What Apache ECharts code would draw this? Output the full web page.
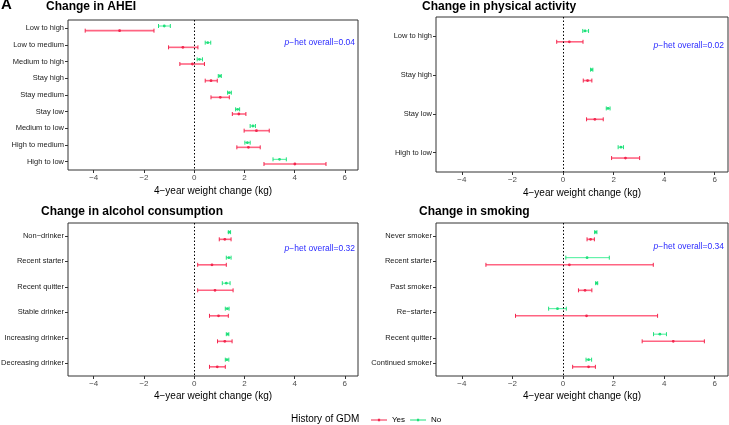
<!DOCTYPE html>
<html>
<head>
<meta charset="utf-8">
<script src="https://cdn.jsdelivr.net/npm/echarts@6/dist/echarts.min.js"></script>
<style>
  html, body { margin: 0; padding: 0; background: #fff; }
  #chart { width: 729px; height: 425px; }
</style>
</head>
<body>
<div id="chart"></div>
<script>
// ── 数据 (lo, hi, point) ─────────────────────
const xTicks = [-4, -2, 0, 2, 4, 6];

const aheiCats = ["Low to high", "Low to medium", "Medium to high", "Stay high", "Stay medium",
  "Stay low", "Medium to low", "High to medium", "High to low"];
const aheiYes = [[-4.34, -1.60, -2.97], [-1.02, 0.15, -0.45], [-0.57, 0.41, -0.07], [0.44, 0.92, 0.67],
  [0.67, 1.40, 1.04], [1.52, 2.06, 1.78], [1.99, 2.99, 2.48], [1.70, 2.63, 2.16], [2.78, 5.25, 4.01]];
const aheiNo = [[-1.42, -0.95, -1.19], [0.44, 0.66, 0.54], [0.12, 0.33, 0.21], [0.96, 1.08, 1.02],
  [1.33, 1.48, 1.40], [1.65, 1.81, 1.73], [2.23, 2.44, 2.34], [2.02, 2.23, 2.12], [3.14, 3.67, 3.40]];

const paCats = ["Low to high", "Stay high", "Stay low", "High to low"];
const paYes = [[-0.25, 0.79, 0.25], [0.80, 1.14, 0.97], [0.93, 1.59, 1.26], [1.92, 3.03, 2.47]];
const paNo = [[0.78, 1.01, 0.87], [1.09, 1.18, 1.13], [1.71, 1.86, 1.78], [2.18, 2.39, 2.29]];

const alcCats = ["Non\u2212drinker", "Recent starter", "Recent quitter", "Stable drinker",
  "Increasing drinker", "Decreasing drinker"];
const alcYes = [[1.00, 1.47, 1.22], [0.14, 1.28, 0.71], [0.14, 1.55, 0.83], [0.61, 1.36, 0.97],
  [0.93, 1.51, 1.22], [0.61, 1.24, 0.92]];
const alcNo = [[1.36, 1.45, 1.39], [1.28, 1.47, 1.38], [1.12, 1.43, 1.28], [1.24, 1.39, 1.32],
  [1.28, 1.38, 1.33], [1.24, 1.38, 1.30]];

const smkCats = ["Never smoker", "Recent starter", "Past smoker", "Re\u2212starter",
  "Recent quitter", "Continued smoker"];
const smkYes = [[0.95, 1.24, 1.09], [-3.05, 3.57, 0.25], [0.61, 1.14, 0.87], [-1.88, 3.74, 0.93],
  [3.13, 5.59, 4.36], [0.38, 1.28, 1.01]];
const smkNo = [[1.25, 1.34, 1.29], [0.11, 1.83, 0.95], [1.29, 1.37, 1.33], [-0.57, 0.13, -0.22],
  [3.58, 4.09, 3.83], [0.91, 1.13, 1.01]];

const panels = [
  { title: "Change in AHEI", cats: aheiCats, yes: aheiYes, no: aheiNo, p: "0.04", nameGap: 16,
    grid: { left: 68, top: 20, width: 290, height: 150 }, titlePos: [46, 6], pPos: [355, 43] },
  { title: "Change in physical activity", cats: paCats, yes: paYes, no: paNo, p: "0.02", nameGap: 16,
    grid: { left: 436, top: 17, width: 292, height: 155 }, titlePos: [422, 6], pPos: [724, 46] },
  { title: "Change in alcohol consumption", cats: alcCats, yes: alcYes, no: alcNo, p: "0.32", nameGap: 15,
    grid: { left: 68, top: 223, width: 290, height: 153 }, titlePos: [41, 211], pPos: [355, 249] },
  { title: "Change in smoking", cats: smkCats, yes: smkYes, no: smkNo, p: "0.34", nameGap: 15,
    grid: { left: 436, top: 223, width: 292, height: 153 }, titlePos: [419, 211], pPos: [724, 247] },
];

const RED = "#f2264d", RED_LINE = "#ff6482", GREEN = "#1ee07a", GREEN_LINE = "#45f09a";
const FONT = "Liberation Sans, Arial, sans-serif";
const minus = (v) => String(v).replace("-", "\u2212");

// 误差线
function makeRender(sign, lineColor, capColor, dotColor, lw) {
  return (params, api) => {
    const row = api.value(3);
    const band = Math.abs(api.size([0, 1])[1]);
    const dy = sign * band * 0.14;
    const a = api.coord([api.value(0), row]);
    const b = api.coord([api.value(1), row]);
    const p = api.coord([api.value(2), row]);
    const y = a[1] + dy;
    const cap = (x) => ({ type: "line", shape: { x1: x, y1: y - 2, x2: x, y2: y + 2 },
      style: { stroke: capColor, lineWidth: 1 } });
    return {
      type: "group",
      children: [
        { type: "line", shape: { x1: a[0], y1: y, x2: b[0], y2: y }, style: { stroke: lineColor, lineWidth: lw } },
        cap(a[0]), cap(b[0]),
        { type: "circle", shape: { cx: p[0], cy: y, r: 1.4 }, style: { fill: dotColor } },
      ],
    };
  };
}

const grids = [], xAxes = [], yAxes = [], series = [], graphics = [];

panels.forEach((pn, i) => {
  const rows = pn.cats.map((_, k) => k);
  grids.push({ ...pn.grid, show: true, borderColor: "#333", borderWidth: 1, backgroundColor: "transparent",
    containLabel: false, outerBoundsMode: "none" });
  xAxes.push({
    type: "value", gridIndex: i, min: -5.025, max: 6.525,
    name: "4\u2212year weight change (kg)", nameLocation: "middle", nameGap: pn.nameGap,
    nameTextStyle: { fontFamily: FONT, fontSize: 10, color: "#000" },
    axisLine: { show: false, onZero: false },
    splitLine: { show: false },
    axisTick: { show: true, length: 3, lineStyle: { color: "#333" }, customValues: xTicks },
    axisLabel: { fontFamily: FONT, fontSize: 8, color: "#4d4d4d", margin: 4,
      customValues: xTicks, formatter: (v) => minus(v) },
  });
  yAxes.push({
    type: "value", gridIndex: i, inverse: true, min: -0.5, max: pn.cats.length - 0.5,
    axisLine: { show: false, onZero: false },
    axisTick: { show: true, length: 3, lineStyle: { color: "#333" }, customValues: rows },
    axisLabel: { fontFamily: FONT, fontSize: 7.5, color: "#1a1a1a", margin: 4,
      customValues: rows, formatter: (v) => pn.cats[Math.round(v)] },
    splitLine: { show: false },
  });
  series.push({
    type: "custom", name: "No", xAxisIndex: i, yAxisIndex: i,
    itemStyle: { color: GREEN },
    renderItem: makeRender(-1, GREEN_LINE, GREEN, GREEN, 1),
    encode: { x: [0, 1, 2], y: 3 },
    data: pn.no.map((d, k) => [d[0], d[1], d[2], k]),
    markLine: {
      silent: true, symbol: "none", label: { show: false },
      lineStyle: { color: "#000", type: [1.5, 2], width: 1 },
      data: [[{ coord: [0, -0.5] }, { coord: [0, pn.cats.length - 0.5] }]],
    },
  });
  series.push({
    type: "custom", name: "Yes", xAxisIndex: i, yAxisIndex: i,
    itemStyle: { color: RED },
    renderItem: makeRender(1, RED_LINE, RED, RED, 1.6),
    encode: { x: [0, 1, 2], y: 3 },
    data: pn.yes.map((d, k) => [d[0], d[1], d[2], k]),
  });
  graphics.push({
    type: "text", left: pn.titlePos[0], top: pn.titlePos[1] - 5,
    style: { text: pn.title, font: "bold 12px " + FONT, fill: "#000" },
  });
  graphics.push({
    type: "text", x: pn.pPos[0], y: pn.pPos[1],
    style: {
      text: "{i|p}\u2212het overall=" + pn.p, align: "right", verticalAlign: "middle",
      font: "8.5px " + FONT, fill: "#2b2bff",
      rich: { i: { fontStyle: "italic", fontSize: 8.5, fontFamily: FONT, fill: "#2b2bff" } },
    },
  });
});

graphics.push({ type: "text", left: 1, top: -3, style: { text: "A", font: "bold 15px " + FONT, fill: "#000" } });
graphics.push({ type: "text", x: 291, y: 419,
  style: { text: "History of GDM", verticalAlign: "middle", font: "10px " + FONT, fill: "#000" } });

const chart = echarts.init(document.getElementById("chart"), null, { renderer: "canvas" });
chart.setOption({
  animation: false,
  backgroundColor: "#fff",
  grid: grids,
  xAxis: xAxes,
  yAxis: yAxes,
  series,
  graphic: graphics,
  legend: {
    data: ["Yes", "No"], left: 366, top: 411, itemWidth: 16, itemHeight: 5, itemGap: 5,
    icon: "path://M0,4.4 L20,4.4 L20,5.6 L0,5.6 Z M8.6,3.4 L11.4,3.4 L11.4,6.6 L8.6,6.6 Z",
    textStyle: { fontFamily: FONT, fontSize: 8, color: "#000" },
  },
});
</script>
</body>
</html>
